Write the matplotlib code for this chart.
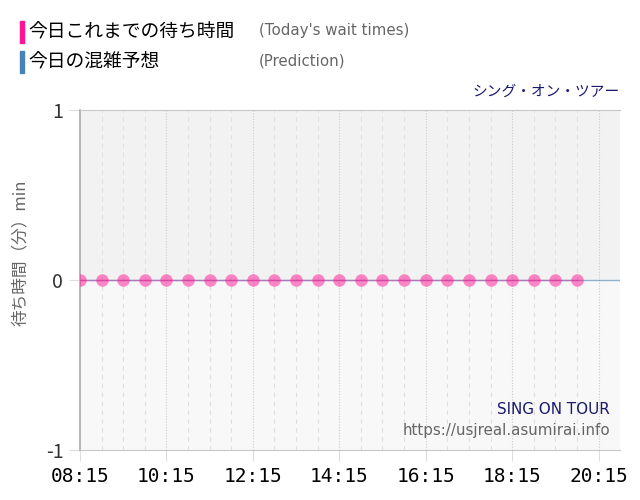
import matplotlib
matplotlib.use('Agg')
import matplotlib.pyplot as plt
import matplotlib.dates as mdates
from matplotlib.patches import Rectangle
from datetime import datetime, timedelta

plt.rcParams['font.family'] = ['Noto Sans CJK JP', 'DejaVu Sans']

# data: observed wait times every 30 min (all zero), prediction flat at zero
start = datetime(2024, 1, 1, 8, 15)
obs_times = [start + timedelta(minutes=30 * i) for i in range(24)]
obs_wait = [0, 0, 0, 0, 0, 0, 0, 0, 0, 0, 0, 0,
            0, 0, 0, 0, 0, 0, 0, 0, 0, 0, 0, 0]
pred_times = [start, datetime(2024, 1, 1, 20, 45)]
pred_wait = [0, 0]
yticks = [-1, 0, 1]

fig = plt.figure(figsize=(6.4, 5.0), dpi=100)
ax = fig.add_axes([0.125, 0.1, 0.844, 0.68])

xmin, xmax = mdates.date2num(pred_times[0]), mdates.date2num(pred_times[1])
ax.set_xlim(xmin, xmax)
ax.set_ylim(-1, 1)

# two-tone background
ax.add_patch(Rectangle((xmin, 0), xmax - xmin, 1, color='#f2f2f2', zorder=0))
ax.add_patch(Rectangle((xmin, -1), xmax - xmin, 1, color='#f8f8f8', zorder=0))

# grid lines: dashed every 30 min, dotted every 2 h
t = start + timedelta(minutes=30)
while t < pred_times[1]:
    mins = int((t - start).total_seconds() // 60)
    if mins % 120 == 0:
        ax.axvline(t, color='#cccccc', lw=0.8, ls=(0, (1, 1.5)), zorder=1)
    else:
        ax.axvline(t, color='#e0e0e0', lw=0.8, ls=(0, (4, 4)), zorder=1)
    t += timedelta(minutes=30)

ax.plot(pred_times, pred_wait, color='#4682b4', lw=1, alpha=0.6, zorder=2)
ax.plot(obs_times, obs_wait, color='#c060b0', lw=1, alpha=0.7, zorder=3)
ax.plot(obs_times, obs_wait, ls='', marker='o', markersize=9,
        color='#ff1493', alpha=0.5, markeredgewidth=0, zorder=4)

ax.set_yticks(yticks)
ax.set_yticklabels([str(v) for v in yticks], fontsize=14, color='#333333')
ticks = [start + timedelta(hours=2 * i) for i in range(7)]
ax.set_xticks(ticks)
ax.set_xticklabels([d.strftime('%H:%M') for d in ticks],
                   fontsize=14, family='DejaVu Sans Mono', color='black')
ax.tick_params(axis='x', length=8, color='#dddddd', pad=4)
ax.tick_params(axis='y', length=8, color='#dddddd', pad=4)

for s in ['top', 'bottom']:
    ax.spines[s].set_color('#c8c8c8')
    ax.spines[s].set_linestyle((0, (1, 1)))
    ax.spines[s].set_linewidth(0.8)
ax.spines['right'].set_visible(False)
ax.spines['left'].set_color('#aaaaaa')
ax.spines['left'].set_linewidth(1.2)

ax.set_ylabel('待ち時間（分）min', fontsize=12, color='#666666')
ax.yaxis.set_label_coords(-0.095, 0.58)

# legend at top
fig.patches.append(Rectangle((20 / 640, 1 - 43 / 500), 4 / 640, 22 / 500,
                             transform=fig.transFigure, color='#ff1493'))
fig.patches.append(Rectangle((20 / 640, 1 - 73 / 500), 4 / 640, 22 / 500,
                             transform=fig.transFigure, color='#4682b4'))
fig.text(28 / 640, 1 - 32 / 500, '今日これまでの待ち時間', fontsize=13.5,
         va='center', color='black')
fig.text(28 / 640, 1 - 62 / 500, '今日の混雑予想', fontsize=13.5,
         va='center', color='black')
fig.text(259 / 640, 1 - 31 / 500, "(Today's wait times)", fontsize=10.8,
         va='center', color='#666666', family='DejaVu Sans')
fig.text(259 / 640, 1 - 61 / 500, '(Prediction)', fontsize=10.8,
         va='center', color='#666666', family='DejaVu Sans')

fig.text(620 / 640, 1 - 92 / 500, 'シング・オン・ツアー', fontsize=10.6,
         ha='right', va='center', color='#1a1a6e')
fig.text(610 / 640, 1 - 410 / 500, 'SING ON TOUR', fontsize=10.9,
         ha='right', va='center', color='#1a1a6e', family='DejaVu Sans')
fig.text(610 / 640, 1 - 431 / 500, 'https://usjreal.asumirai.info', fontsize=10.9,
         ha='right', va='center', color='#666666', family='DejaVu Sans')

fig.savefig('out.png', dpi=100)
